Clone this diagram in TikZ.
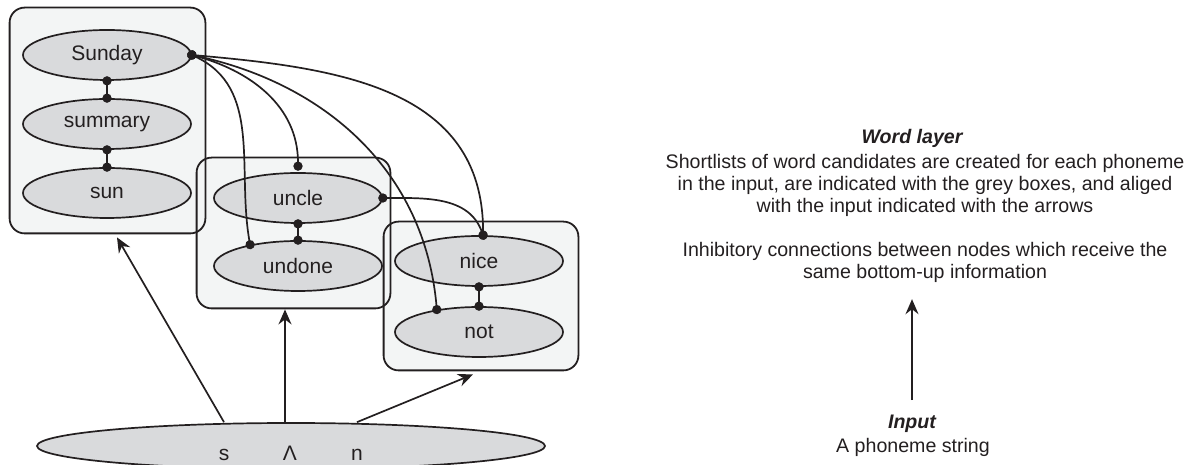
\documentclass[tikz,border=0pt]{standalone}
\usepackage{fontspec}
\setmainfont{Liberation Sans}
\usetikzlibrary{arrows.meta,positioning,shapes.geometric,calc,backgrounds}
\definecolor{inkdark}{RGB}{35,31,32}
\definecolor{wordgrey}{RGB}{217,218,220}
\definecolor{listgrey}{RGB}{243,245,245}

\begin{document}
\begin{tikzpicture}[x=0.5pt, y=0.5pt,
    word/.style={ellipse, draw=inkdark, fill=wordgrey, line width=0.85pt,
                 minimum width=84pt, minimum height=25pt, inner sep=0pt,
                 font=\fontsize{10.5}{12}\selectfont, text=inkdark},
    shortlist/.style={rectangle, rounded corners=7.5pt, fill=listgrey,
                      inner sep=0pt},
    listedge/.style={draw=inkdark, line width=0.9pt, rounded corners=7.5pt},
    inhib/.style={{Circle[length=4.6pt]}-{Circle[length=4.6pt]},
                  line width=0.85pt, draw=inkdark,
                  shorten <=-2.3pt, shorten >=-2.3pt},
    feed/.style={-{Stealth[length=7.5pt, width=6.5pt, inset=2.5pt]},
                 line width=0.85pt, draw=inkdark},
    phon/.style={anchor=base, font=\fontsize{10.5}{12}\selectfont, text=inkdark},
    note/.style={font=\fontsize{9.8}{11}\selectfont, text=inkdark, align=center},
    title/.style={font=\fontsize{9.8}{11}\selectfont\bfseries\itshape,
                  text=inkdark},
  ]
  \useasboundingbox (0,0) rectangle (1203,465);

  % Shortlists (grey boxes)
  \begin{scope}[on background layer]
    \node[shortlist, minimum width=97.5pt, minimum height=112.5pt]
      (box1) at (107.5,344.5) {};
    \node[shortlist, minimum width=96.5pt, minimum height=75pt]
      (box2) at (293.5,232) {};
    \node[shortlist, minimum width=97pt, minimum height=74pt]
      (box3) at (481,169) {};
  \end{scope}
  \foreach \bx in {box1,box2,box3}
    \draw[listedge] (\bx.south west) rectangle (\bx.north east);

  % Word candidates
  \node[word] (sunday)  at (107,410) {Sunday};
  \node[word] (summary) at (107,341) {summary};
  \node[word] (sun)     at (107,272) {sun};

  \node[word] (uncle)   at (298,267) {uncle};
  \node[word] (undone)  at (298,199) {undone};

  \node[word] (nice)    at (479,204) {nice};
  \node[word] (not)     at (479,133) {not};

  % Input
  \node[ellipse, draw=inkdark, fill=wordgrey, line width=0.85pt,
        minimum width=254pt, minimum height=23pt] (input) at (291,19) {};
  \node[phon] (ph1) at (224,4) {s};
  \node[phon] (ph2) at (290,4) {Λ};
  \node[phon] (ph3) at (357,4) {n};

  % Bottom-up alignment
  \coordinate (tip1) at ([xshift=4.75pt, yshift=-2pt]box1.south);
  \coordinate (tip2) at ([xshift=-4.25pt, yshift=-0.5pt]box2.south);
  \coordinate (tip3) at ([xshift=-4pt, yshift=-2pt]box3.south);
  \draw[feed] (input.north -| ph1) -- (tip1);
  \draw[feed] (input.north -| tip2) -- (tip2);
  \draw[feed] (input.north -| ph3) -- (tip3);

  % Inhibitory connections
  \draw[inhib] (sunday.south) -- (summary.north);
  \draw[inhib] (summary.south) -- (sun.north);
  \draw[inhib] (uncle.south) -- (undone.north);
  \draw[inhib] (nice.south) -- (not.north);
  \draw[inhib] (uncle.east) to[out=0, in=110] (nice.81);
  \draw[inhib] (sunday.east) to[out=-25, in=100] (undone.156);
  \draw[inhib] (sunday.east) to[out=-15, in=90] ([yshift=3pt]uncle.north);
  \draw[inhib] (sunday.east) to[out=-12, in=95] (not.152);
  \draw[inhib] (sunday.east) to[out=-5, in=90, looseness=1.1] (nice.81);

  % Legend
  \node[title] (wordlab) at (912,327) {Word layer};
  \node[note] (wordtxt) at (925,280)
    {Shortlists of word candidates are created for each phoneme\\
     in the input, are indicated with the grey boxes, and aliged\\
     with the input indicated with the arrows};
  \node[note] (inhibtxt) at (925,203)
    {Inhibitory connections between nodes which receive the\\
     same bottom-up information};
  \node[title] (inputlab) at (912,41) {Input};
  \node[note] (inputtxt) at (913,18) {A phoneme string};
  \draw[feed] ([yshift=4pt]inputlab.north)
    -- ([yshift=-5pt]inputlab.north |- inhibtxt.south);
\end{tikzpicture}
\end{document}
